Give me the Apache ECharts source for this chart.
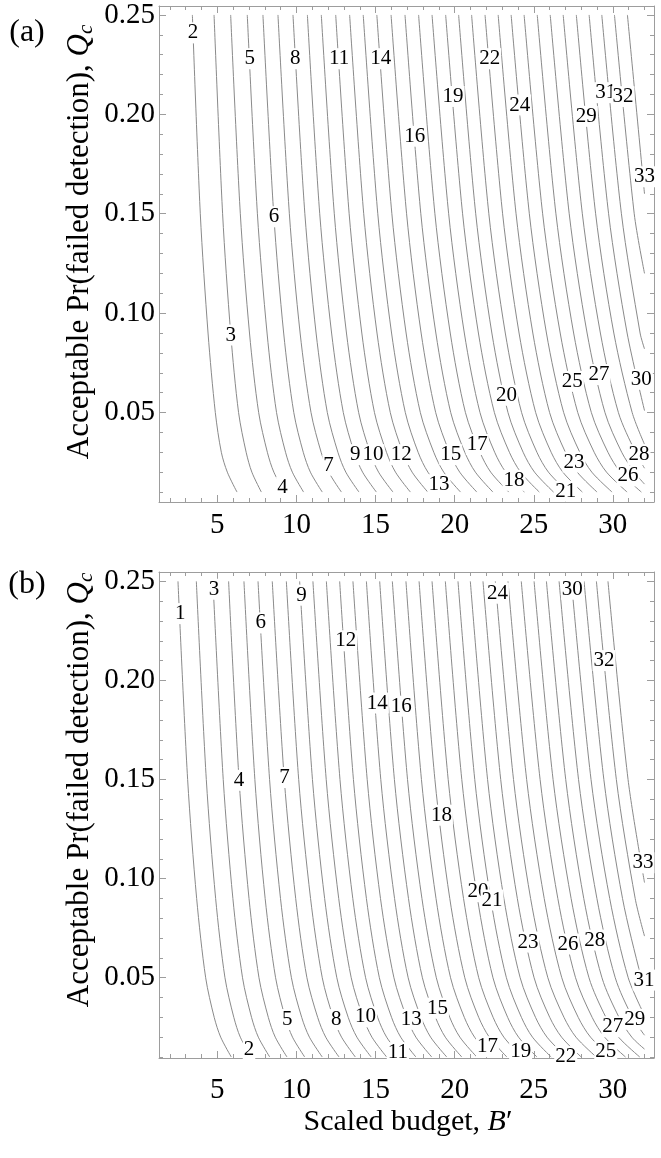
<!DOCTYPE html>
<html>
<head>
<meta charset="utf-8">
<script src="https://cdn.jsdelivr.net/npm/echarts@6/dist/echarts.min.js"></script>
<style>
html, body { margin: 0; padding: 0; background: #fff; }
#chart { width: 661px; height: 1158px; }
</style>
</head>
<body>
<div id="chart"></div>
<script>
// Qc levels where each contour's B' position was read, top to bottom
var qLevels = [0.25, 0.15, 0.09, 0.05, 0.03, 0.02, 0.01];

// panel (a)
var numsA = [2, 3, 4, 5, 6, 7, 8, 9, 10, 11, 12, 13, 14, 15, 16, 17, 18, 19, 20, 21, 22, 23, 24, 25, 26, 27, 28, 29, 30, 31, 32, 33];
var xsA = [
    [3.42, 3.92, 4.41, 4.87, 5.25, 5.63, 6.24],
    [4.79, 5.33, 5.84, 6.34, 6.82, 7.18, 7.78],
    [5.84, 6.45, 7.03, 7.61, 8.16, 8.57, 9.25],
    [6.89, 7.53, 8.14, 8.74, 9.31, 9.74, 10.45],
    [7.88, 8.56, 9.19, 9.83, 10.43, 10.88, 11.63],
    [8.83, 9.55, 10.23, 10.92, 11.56, 12.04, 12.84],
    [9.78, 10.53, 11.24, 11.95, 12.62, 13.12, 13.95],
    [10.69, 11.47, 12.22, 12.96, 13.65, 14.18, 15.05],
    [11.57, 12.39, 13.16, 13.93, 14.65, 15.19, 16.1],
    [12.48, 13.33, 14.13, 14.93, 15.69, 16.26, 17.2],
    [13.36, 14.25, 15.09, 15.93, 16.72, 17.31, 18.3],
    [14.22, 15.14, 16.01, 16.88, 17.69, 18.31, 19.33],
    [15.08, 16.03, 16.93, 17.83, 18.68, 19.31, 20.37],
    [15.98, 16.96, 17.88, 18.8, 19.67, 20.32, 21.4],
    [16.86, 17.86, 18.81, 19.75, 20.64, 21.31, 22.42],
    [17.72, 18.75, 19.72, 20.68, 21.6, 22.28, 23.42],
    [18.57, 19.62, 20.61, 21.6, 22.53, 23.23, 24.4],
    [19.43, 20.5, 21.5, 22.51, 23.46, 24.17, 25.35],
    [20.25, 21.33, 22.35, 23.37, 24.33, 25.05, 26.25],
    [21.07, 22.16, 23.2, 24.23, 25.2, 25.93, 27.15],
    [21.92, 23.03, 24.07, 25.12, 26.1, 26.84, 28.07],
    [22.75, 23.88, 24.94, 26.0, 27.0, 27.75, 29.0],
    [23.57, 24.72, 25.8, 26.89, 27.91, 28.67, 29.95],
    [24.39, 25.56, 26.67, 27.78, 28.82, 29.6, 30.9],
    [25.22, 26.4, 27.52, 28.64, 29.69, 30.48, 31.8],
    [26.04, 27.24, 28.37, 29.5, 30.56, 31.36],
    [26.86, 28.07, 29.21, 30.35, 31.43],
    [27.69, 28.91, 30.06, 31.22],
    [28.5, 29.73, 30.9],
    [29.3, 30.54, 31.72],
    [30.1, 31.35],
    [30.92]
];
// contours that run out through B' = 32: [contour, Qc there]
var edgeA = [[27, 0.014], [28, 0.022], [29, 0.034], [30, 0.051], [31, 0.082], [32, 0.12], [33, 0.16]];
// contour labels: [contour, B', Qc]
var labelsA = [
    [2, 3.46, 0.241], [3, 5.84, 0.089], [4, 9.11, 0.0125], [5, 7.04, 0.228], [6, 8.58, 0.1485],
    [7, 12.03, 0.0235], [8, 9.93, 0.228], [9, 13.72, 0.0288], [10, 14.84, 0.0288], [11, 12.69, 0.228],
    [12, 16.63, 0.0288], [13, 19.01, 0.0137], [14, 15.32, 0.228], [15, 19.75, 0.0288], [16, 17.47, 0.189],
    [17, 21.43, 0.0339], [18, 23.75, 0.0159], [19, 19.9, 0.209], [20, 23.27, 0.0587], [21, 27.02, 0.0104],
    [22, 22.21, 0.228], [23, 27.54, 0.0251], [24, 24.11, 0.2047], [25, 27.44, 0.0657], [26, 30.96, 0.0181],
    [27, 29.12, 0.0691], [28, 31.65, 0.0288], [29, 28.32, 0.199], [30, 31.8, 0.0667], [31, 29.55, 0.2109],
    [32, 30.64, 0.2089], [33, 32.0, 0.1686]
];

// panel (b)
var numsB = [1, 2, 3, 4, 5, 6, 7, 8, 9, 10, 11, 12, 13, 14, 15, 16, 17, 18, 19, 20, 21, 22, 23, 24, 25, 26, 27, 28, 29, 30, 31, 32, 33];
var xsB = [
    [2.51, 3.12, 3.69, 4.26, 4.8, 5.21, 5.88],
    [3.67, 4.3, 4.89, 5.48, 6.04, 6.45, 7.15],
    [4.72, 5.37, 5.98, 6.59, 7.16, 7.59, 8.31],
    [5.71, 6.37, 7.0, 7.63, 8.22, 8.66, 9.4],
    [6.68, 7.37, 8.02, 8.68, 9.29, 9.75, 10.52],
    [7.57, 8.3, 8.99, 9.68, 10.33, 10.82, 11.63],
    [8.47, 9.23, 9.95, 10.66, 11.34, 11.85, 12.69],
    [9.36, 10.14, 10.89, 11.63, 12.32, 12.85, 13.72],
    [10.2, 11.01, 11.78, 12.55, 13.27, 13.82, 14.72],
    [11.04, 11.88, 12.67, 13.46, 14.21, 14.77, 15.7],
    [11.89, 12.75, 13.56, 14.37, 15.13, 15.7, 16.65],
    [12.73, 13.6, 14.42, 15.24, 16.01, 16.59, 17.55],
    [13.57, 14.47, 15.31, 16.16, 16.96, 17.55, 18.55],
    [14.42, 15.33, 16.2, 17.06, 17.87, 18.48, 19.5],
    [15.26, 16.19, 17.08, 17.96, 18.79, 19.41, 20.45],
    [16.06, 17.02, 17.93, 18.84, 19.69, 20.33, 21.4],
    [16.92, 17.9, 18.82, 19.74, 20.61, 21.26, 22.35],
    [17.75, 18.75, 19.69, 20.64, 21.52, 22.19, 23.3],
    [18.57, 19.59, 20.56, 21.52, 22.43, 23.11, 24.25],
    [19.41, 20.45, 21.44, 22.42, 23.35, 24.04, 25.2],
    [20.21, 21.27, 22.27, 23.27, 24.22, 24.92, 26.1],
    [20.99, 22.08, 23.11, 24.14, 25.11, 25.84, 27.05],
    [21.79, 22.91, 23.96, 25.02, 26.01, 26.76, 28.0],
    [22.57, 23.72, 24.8, 25.89, 26.91, 27.67, 28.95],
    [23.37, 24.55, 25.66, 26.77, 27.81, 28.59, 29.9],
    [24.21, 25.4, 26.52, 27.64, 28.69, 29.48, 30.8],
    [25.02, 26.22, 27.36, 28.49, 29.56, 30.36, 31.7],
    [25.8, 27.02, 28.16, 29.31, 30.39, 31.2],
    [26.6, 27.83, 28.99, 30.15, 31.24],
    [27.38, 28.62, 29.8, 30.97],
    [28.18, 29.43, 30.61, 31.79],
    [28.96, 30.22, 31.41],
    [29.69, 30.96]
];
var edgeB = [[28, 0.014], [29, 0.021], [30, 0.031], [31, 0.046], [32, 0.071], [33, 0.098]];
var labelsB = [
    [1, 2.66, 0.2337], [2, 7.0, 0.0136], [3, 4.79, 0.246], [4, 6.37, 0.1496], [5, 9.42, 0.0289],
    [6, 7.74, 0.229], [7, 9.25, 0.151], [8, 12.52, 0.0289], [9, 10.31, 0.243], [10, 14.37, 0.0303],
    [11, 16.41, 0.0122], [12, 13.11, 0.22], [13, 17.26, 0.029], [14, 15.11, 0.1886], [15, 18.91, 0.0346],
    [16, 16.63, 0.187], [17, 22.07, 0.0152], [18, 19.16, 0.132], [19, 24.17, 0.0127], [20, 21.47, 0.0934],
    [21, 22.36, 0.0892], [22, 27.02, 0.0102], [23, 24.63, 0.068], [24, 22.7, 0.244], [25, 29.55, 0.0127],
    [26, 27.16, 0.067], [27, 30.0, 0.0253], [28, 28.85, 0.069], [29, 31.38, 0.029], [30, 27.44, 0.246],
    [31, 31.97, 0.0488], [32, 29.44, 0.21], [33, 31.9, 0.108]
];

// tick values
var xMajor = [5, 10, 15, 20, 25, 30];
var xMinor = [2, 3, 4, 6, 7, 8, 9, 11, 12, 13, 14, 16, 17, 18, 19, 21, 22, 23, 24, 26, 27, 28, 29, 31, 32];
var yMajor = [0.05, 0.1, 0.15, 0.2, 0.25];
var yMinor = [0.01, 0.02, 0.03, 0.04, 0.06, 0.07, 0.08, 0.09, 0.11, 0.12, 0.13, 0.14, 0.16, 0.17, 0.18, 0.19, 0.21, 0.22, 0.23, 0.24];

var serif = 'Liberation Serif';
var frameColor = '#9d9d9d';
var lineColor = '#8a8a8a';

function frameAxes(g, min, max, majors, minors, sides, fmt, margin) {
    var list = [];
    sides.forEach(function (pos, k) {
        list.push({
            gridIndex: g, type: 'value', position: pos, min: min, max: max,
            splitLine: {show: false},
            axisLine: {show: true, onZero: false, lineStyle: {color: frameColor, width: 1}},
            axisTick: {show: true, inside: true, length: 7, customValues: majors, lineStyle: {color: frameColor}},
            axisLabel: k === 0 ? {
                show: true, customValues: majors, formatter: fmt, margin: margin,
                fontFamily: serif, fontSize: 29, color: '#000'
            } : {show: false}
        });
        list.push({
            gridIndex: g, type: 'value', position: pos, min: min, max: max,
            splitLine: {show: false},
            axisLine: {show: false, onZero: false},
            axisTick: {show: true, inside: true, length: 4, customValues: minors, lineStyle: {color: frameColor}},
            axisLabel: {show: false}
        });
    });
    return list;
}

function fmtX(v) { return String(v); }
function fmtY(v) { return v.toFixed(2); }

var series = [];

function addPanel(g, nums, xs, edges, labels) {
    nums.forEach(function (n, i) {
        var pts = xs[i].map(function (x, j) { return [x, qLevels[j]]; });
        edges.forEach(function (e) {
            if (e[0] === n) pts.push([32, e[1]]);
        });
        series.push({
            type: 'line', xAxisIndex: g * 4, yAxisIndex: g * 4,
            data: pts, smooth: 0.3, showSymbol: false, symbol: 'none', silent: true, z: 2,
            lineStyle: {color: lineColor, width: 1}
        });
    });
    // number labels sit on their contour with a white box behind them
    series.push({
        type: 'scatter', xAxisIndex: g * 4, yAxisIndex: g * 4, silent: true, z: 5,
        symbol: 'rect', symbolSize: 1, itemStyle: {color: '#fff', opacity: 1},
        data: labels.map(function (l) { return {name: String(l[0]), value: [l[1], l[2]]}; }),
        label: {
            show: true, position: 'inside', formatter: '{b}',
            fontFamily: serif, fontSize: 21, color: '#000', textBorderWidth: 0,
            backgroundColor: '#fff', padding: [0, 1]
        }
    });
}

addPanel(0, numsA, xsA, edgeA, labelsA);
addPanel(1, numsB, xsB, edgeB, labelsB);

var yTitle = {
    t: {fontFamily: serif, fontSize: 31, color: '#000'},
    q: {fontFamily: serif, fontSize: 31, fontStyle: 'italic', color: '#000'},
    s: {fontFamily: serif, fontSize: 21, fontStyle: 'italic', color: '#000', verticalAlign: 'bottom', padding: [12, 0, 0, 0]}
};
var xTitle = {
    t: {fontFamily: serif, fontSize: 30, color: '#000'},
    q: {fontFamily: serif, fontSize: 30, fontStyle: 'italic', color: '#000'}
};

var option = {
    animation: false,
    backgroundColor: '#fff',
    grid: [
        {left: 159, top: 6, width: 495, height: 496, outerBoundsMode: 'none'},
        {left: 159, top: 572, width: 495, height: 486, outerBoundsMode: 'none'}
    ],
    xAxis: frameAxes(0, 1.31, 32.6, xMajor, xMinor, ['bottom', 'top'], fmtX, 9)
        .concat(frameAxes(1, 1.31, 32.6, xMajor, xMinor, ['bottom', 'top'], fmtX, 18)),
    yAxis: frameAxes(0, 0.005, 0.2545, yMajor, yMinor, ['left', 'right'], fmtY, 4)
        .concat(frameAxes(1, 0.0095, 0.2547, yMajor, yMinor, ['left', 'right'], fmtY, 4)),
    graphic: [
        {type: 'text', x: 27, y: 33, style: {text: '(a)', font: '32px "Liberation Serif"', fill: '#000', align: 'center', verticalAlign: 'middle'}},
        {type: 'text', x: 27, y: 585, style: {text: '(b)', font: '32px "Liberation Serif"', fill: '#000', align: 'center', verticalAlign: 'middle'}},
        {type: 'text', x: 80, y: 242, rotation: Math.PI / 2,
            style: {text: '{t|Acceptable Pr(failed detection), }{q|Q}{s|c}', rich: yTitle, align: 'center', verticalAlign: 'middle'}},
        {type: 'text', x: 80, y: 790, rotation: Math.PI / 2,
            style: {text: '{t|Acceptable Pr(failed detection), }{q|Q}{s|c}', rich: yTitle, align: 'center', verticalAlign: 'middle'}},
        {type: 'text', x: 408, y: 1122,
            style: {text: '{t|Scaled budget, }{q|B}{t|\u2032}', rich: xTitle, align: 'center', verticalAlign: 'middle'}}
    ],
    series: series
};

var myChart = echarts.init(document.getElementById('chart'));
myChart.setOption(option);
</script>
</body>
</html>
